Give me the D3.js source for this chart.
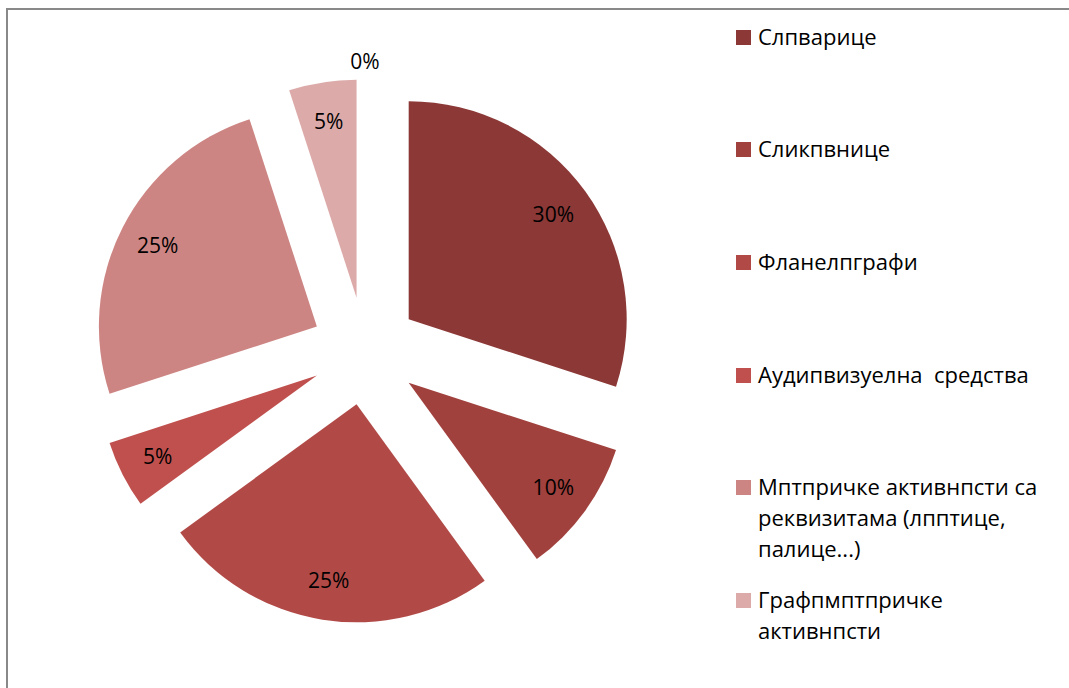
<!DOCTYPE html>
<html>
<head>
<meta charset="utf-8">
<script src="https://cdn.jsdelivr.net/npm/d3@7"></script>
<style>
    body { margin: 0; background: #fff; }
    text { font-family: "Open Sans", Lato, sans-serif; fill: #000; }
    .legend text { white-space: pre; }
</style>
</head>
<body>
<div class="chart"></div>
<script>
// data
const categories = [
    "Слпварице",
    "Сликпвнице",
    "Фланелпграфи",
    "Аудипвизуелна средства",
    "Мптпричке активнпсти са реквизитама (лпптице, палице...)",
    "Графпмптпричке активнпсти",
    ""
];
const values = [30, 10, 25, 5, 25, 5, 0];
const colors = ["#8b3836", "#a1413d", "#b14a47", "#c0504d", "#cd8583", "#dcaaa9", "#e6c6c5"];

// legend lines (wrapped like the original)
const legendLines = [
    ["Слпварице"],
    ["Сликпвнице"],
    ["Фланелпграфи"],
    ["Аудипвизуелна  средства"],
    ["Мптпричке активнпсти са", "реквизитама (лпптице,", "палице...)"],
    ["Графпмптпричке", "активнпсти"]
];

const width = 1069, height = 688;

const svg = d3.select(".chart").append("svg")
    .attr("width", width)
    .attr("height", height);

// chart area border
svg.append("rect")
    .attr("x", 7)
    .attr("y", 9)
    .attr("width", width + 20)
    .attr("height", height + 20)
    .attr("fill", "none")
    .attr("stroke", "#898989")
    .attr("stroke-width", 2);

const cx = 365, cy = 351;
const radius = 218;
const explode = 54;

const pie = d3.pie().sort(null).value(d => d);
const arcs = pie(values);

const arc = d3.arc().innerRadius(0).outerRadius(radius);

const g = svg.append("g")
    .attr("transform", "translate(" + cx + "," + cy + ")");

// offset each slice outward along its middle angle
function offset(d, dist) {
    const a = (d.startAngle + d.endAngle) / 2;
    return [Math.sin(a) * dist, -Math.cos(a) * dist];
}

const slices = g.selectAll("g.slice")
    .data(arcs)
    .join("g")
    .attr("class", "slice")
    .attr("transform", d => "translate(" + offset(d, explode) + ")");

slices.append("path")
    .attr("d", arc)
    .attr("fill", (d, i) => colors[i]);

// percent labels
slices.append("text")
    .attr("transform", d => {
        const r = d.value === 0 ? radius * 1.08 : radius * 0.82;
        return "translate(" + offset(d, r) + ")";
    })
    .attr("text-anchor", "middle")
    .attr("dy", "0.36em")
    .style("font-size", "21px")
    .text(d => d.value + "%");

// legend
const legendTop = [30, 142, 255, 368, 480, 593];
const legend = svg.append("g").attr("class", "legend");

legendLines.forEach((lines, i) => {
    const item = legend.append("g")
        .attr("transform", "translate(736," + legendTop[i] + ")");
    item.append("rect")
        .attr("width", 15)
        .attr("height", 15)
        .attr("fill", colors[i]);
    item.selectAll("text")
        .data(lines)
        .join("text")
        .attr("x", 22)
        .attr("y", (d, j) => 15 + j * 31)
        .style("font-size", "22px")
        .text(d => d);
});
</script>
</body>
</html>
